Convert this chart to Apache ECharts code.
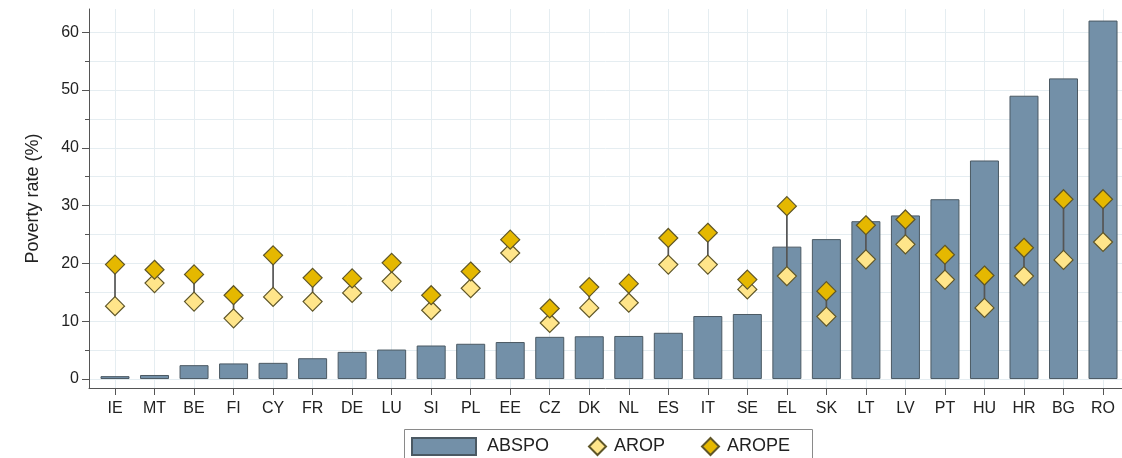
<!DOCTYPE html>
<html>
<head>
<meta charset="utf-8">
<script src="https://cdn.jsdelivr.net/npm/echarts@6/dist/echarts.min.js"></script>
<style>
  html, body { margin: 0; padding: 0; background: #ffffff; }
  #chart { width: 1122px; height: 458px; }
</style>
</head>
<body>
<div id="chart"></div>
<script>
// Countries, ordered by absolute poverty rate
const countries = ['IE','MT','BE','FI','CY','FR','DE','LU','SI','PL','EE','CZ','DK','NL','ES','IT','SE','EL','SK','LT','LV','PT','HU','HR','BG','RO'];

// Absolute poverty (bars)
const abspo = [0.5, 0.7, 2.4, 2.7, 2.8, 3.6, 4.7, 5.1, 5.8, 6.1, 6.4, 7.3, 7.4, 7.45, 8.0, 10.9, 11.25, 22.9, 24.2, 27.3, 28.3, 31.1, 37.8, 49.0, 52.0, 62.0];

// At risk of poverty (light diamonds)
const arop = [12.6, 16.6, 13.4, 10.5, 14.2, 13.4, 14.9, 16.9, 11.9, 15.7, 21.8, 9.7, 12.3, 13.2, 19.8, 19.8, 15.5, 17.8, 10.8, 20.7, 23.3, 17.2, 12.3, 17.8, 20.6, 23.7];

// At risk of poverty or social exclusion (dark diamonds)
const arope = [19.8, 18.9, 18.1, 14.5, 21.4, 17.5, 17.4, 20.1, 14.5, 18.6, 24.1, 12.2, 15.9, 16.5, 24.4, 25.3, 17.2, 29.9, 15.2, 26.6, 27.6, 21.5, 17.9, 22.7, 31.1, 31.1];

// Axis ticks
const yLabelTicks = [0, 10, 20, 30, 40, 50, 60];
const yMinorTicks = [0, 5, 10, 15, 20, 25, 30, 35, 40, 45, 50, 55, 60];

const idx = countries.map((_, i) => i);
const FONT = '"Liberation Sans", Arial, Helvetica, sans-serif';
const TEXT = '#222222';
const AXIS = '#555555';
const GRID = '#e5edf1';

const chart = echarts.init(document.getElementById('chart'), null, { renderer: 'canvas' });

const yBase = { type: 'value', min: -1.55, max: 64, position: 'left' };

chart.setOption({
  animation: false,
  backgroundColor: '#ffffff',
  textStyle: { fontFamily: FONT, color: TEXT },
  grid: { left: 89, right: 0, top: 9, bottom: 70, containLabel: false },
  xAxis: {
    type: 'value',
    min: -0.658,
    max: 25.48,
    axisLine: { show: true, onZero: false, lineStyle: { color: AXIS, width: 1 } },
    axisTick: { show: true, customValues: idx, length: 7, lineStyle: { color: AXIS } },
    axisLabel: {
      customValues: idx,
      formatter: v => countries[Math.round(v)],
      fontFamily: FONT, fontSize: 16, color: TEXT, margin: 13
    },
    splitLine: { show: true, lineStyle: { color: GRID, width: 1 } }
  },
  yAxis: [
    Object.assign({}, yBase, {
      name: 'Poverty rate (%)',
      nameLocation: 'middle',
      nameGap: 47,
      nameTextStyle: { fontFamily: FONT, fontSize: 18, color: TEXT },
      axisLine: { show: true, onZero: false, lineStyle: { color: AXIS, width: 1 } },
      axisTick: { show: true, customValues: yMinorTicks, length: 4, lineStyle: { color: AXIS } },
      axisLabel: { customValues: yLabelTicks, fontFamily: FONT, fontSize: 16, color: TEXT, margin: 10 },
      splitLine: { show: true, lineStyle: { color: GRID, width: 1 } }
    }),
    Object.assign({}, yBase, {
      axisLine: { show: false, onZero: false },
      axisTick: { show: true, customValues: yLabelTicks, length: 7, lineStyle: { color: AXIS } },
      axisLabel: { show: false },
      splitLine: { show: false }
    })
  ],
  legend: [
    {
      data: [{ name: 'ABSPO', icon: 'rect' }], left: 411, top: 437, itemWidth: 64, itemHeight: 17, padding: 0,
      selectedMode: false,
      textStyle: { fontFamily: FONT, fontSize: 18, color: TEXT, padding: [0, 0, 0, 6] }
    },
    {
      data: ['AROP'], left: 588, top: 437, itemWidth: 17, itemHeight: 17, padding: 0,
      selectedMode: false,
      textStyle: { fontFamily: FONT, fontSize: 18, color: TEXT, padding: [0, 0, 0, 3] }
    },
    {
      data: ['AROPE'], left: 701, top: 437, itemWidth: 17, itemHeight: 17, padding: 0,
      selectedMode: false,
      textStyle: { fontFamily: FONT, fontSize: 18, color: TEXT, padding: [0, 0, 0, 3] }
    }
  ],
  graphic: [
    {
      type: 'rect', z: -1, silent: true,
      shape: { x: 404.5, y: 429.5, width: 408, height: 40 },
      style: { fill: '#ffffff', stroke: '#8a8a8a', lineWidth: 1 }
    }
  ],
  series: [
    {
      name: 'ABSPO',
      type: 'bar',
      barWidth: 29,
      data: idx.map(i => [i, abspo[i]]),
      itemStyle: { color: '#7390a8', borderColor: '#4b5963', borderWidth: 1 },
      z: 2
    },
    {
      name: 'link',
      type: 'custom',
      data: idx.map(i => [i, arop[i], arope[i]]),
      encode: { x: 0, y: [1, 2] },
      renderItem: (params, api) => {
        const p1 = api.coord([api.value(0), api.value(1)]);
        const p2 = api.coord([api.value(0), api.value(2)]);
        return {
          type: 'line',
          shape: { x1: p1[0], y1: p1[1], x2: p2[0], y2: p2[1] },
          style: { stroke: '#555555', lineWidth: 1.7 }
        };
      },
      z: 3
    },
    {
      name: 'AROP',
      type: 'scatter',
      symbol: 'diamond',
      symbolSize: 19,
      data: idx.map(i => [i, arop[i]]),
      itemStyle: { color: '#ffe58a', borderColor: '#5f5628', borderWidth: 1.2, opacity: 1 },
      z: 4
    },
    {
      name: 'AROPE',
      type: 'scatter',
      symbol: 'diamond',
      symbolSize: 19,
      data: idx.map(i => [i, arope[i]]),
      itemStyle: { color: '#e5b800', borderColor: '#5f5628', borderWidth: 1.2, opacity: 1 },
      z: 5
    }
  ]
});
</script>
</body>
</html>
